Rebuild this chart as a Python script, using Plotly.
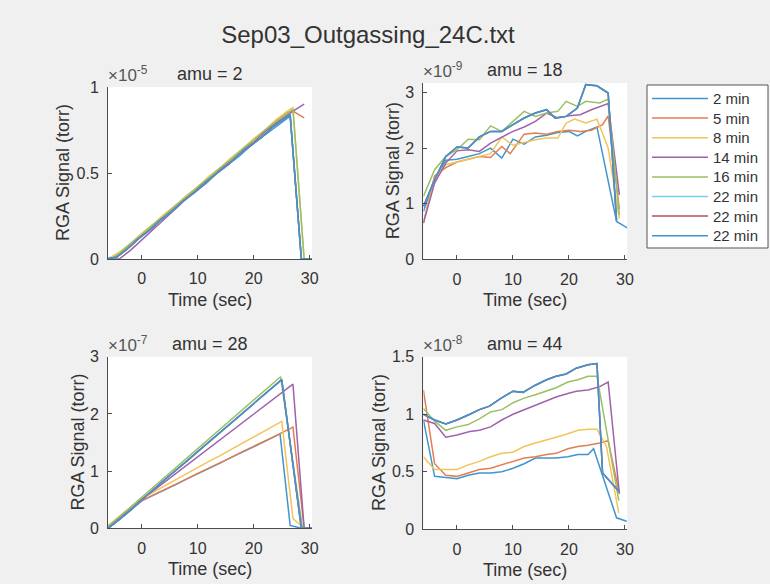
import plotly.graph_objects as go

W, H = 770, 584

labels = ["2 min", "5 min", "8 min", "14 min", "16 min", "22 min", "22 min", "22 min"]
colors = ["#4095CE", "#E37E52", "#F1C558", "#9E63AA", "#99C164", "#7ACEF2", "#B94F63", "#4095CE"]

# ---------------- amu = 2  (x 1e-5 torr) ----------------
amu2_t_drop = [-6.5, -4.5, -2.5, -0.5, 1.5, 3.5, 5.5, 7.5, 9.5, 11.5, 13.5, 15.5, 17.5, 19.5, 21.5, 23.5, 25.5, 26.5, 28.5, 30.5]
amu2_t_late = [-6, -5, -4, -2, 0, 2, 4, 6, 8, 10, 12, 14, 16, 18, 20, 22, 24, 26, 27, 29]
amu2_2min = [0, 0.01, 0.06, 0.12, 0.17, 0.23, 0.28, 0.34, 0.39, 0.44, 0.50, 0.55, 0.60, 0.66, 0.71, 0.76, 0.81, 0.83, 0, 0]
amu2_5min = [0, 0.01, 0.03, 0.08, 0.14, 0.19, 0.25, 0.30, 0.36, 0.41, 0.47, 0.52, 0.58, 0.63, 0.69, 0.74, 0.80, 0.85, 0.86, 0.82]
amu2_8min = [0, 0.02, 0.04, 0.09, 0.15, 0.20, 0.26, 0.31, 0.37, 0.42, 0.48, 0.53, 0.59, 0.64, 0.70, 0.75, 0.81, 0.86, 0.88, 0]
amu2_14min = [0, 0, 0, 0.05, 0.11, 0.17, 0.23, 0.29, 0.35, 0.40, 0.46, 0.52, 0.57, 0.63, 0.68, 0.74, 0.79, 0.84, 0.86, 0.90]
amu2_16min = [0, 0.01, 0.03, 0.09, 0.14, 0.20, 0.25, 0.31, 0.36, 0.42, 0.47, 0.53, 0.58, 0.64, 0.69, 0.75, 0.80, 0.85, 0.87, 0]
amu2_22min = [0, 0.01, 0.06, 0.12, 0.17, 0.23, 0.28, 0.34, 0.39, 0.45, 0.50, 0.55, 0.61, 0.66, 0.71, 0.77, 0.82, 0.84, 0, 0]

# ---------------- amu = 18  (x 1e-9 torr) ----------------
amu18_t_2min = [-6, -4, -2, 0, 2, 4, 6, 8, 10, 12, 14, 16, 18, 20, 21.5, 23, 25, 28.5, 30.5]
amu18_2min = [0.86, 1.45, 1.78, 1.80, 1.85, 1.90, 2.00, 1.82, 2.16, 2.07, 2.20, 2.23, 2.28, 2.30, 2.22, 2.30, 2.38, 0.68, 0.56]
amu18_t_5min = [-6, -4, -2, 0, 2, 4, 6, 8, 9.5, 12, 14, 16, 18, 20, 22, 24, 26, 27, 29]
amu18_5min = [0.65, 1.50, 1.65, 1.75, 1.80, 1.85, 1.83, 2.03, 1.90, 2.25, 2.27, 2.25, 2.30, 2.32, 2.30, 2.32, 2.42, 2.58, 0.90]
amu18_t_8min = [-6, -4, -2, 0, 2, 4, 6, 8, 10, 12, 14, 16, 18, 19.5, 21, 23, 25, 27, 29]
amu18_8min = [0.65, 1.45, 1.70, 1.75, 1.80, 1.85, 1.90, 2.20, 2.05, 2.10, 2.15, 2.18, 2.18, 2.45, 2.52, 2.45, 2.52, 2.00, 0.73]
amu18_t_14min = [-6, -4, -2, 0, 2, 4, 6, 8, 10, 12, 14, 16, 18, 20, 22, 24, 27, 29]
amu18_14min = [0.65, 1.37, 1.73, 1.95, 1.97, 1.94, 2.09, 2.20, 2.30, 2.38, 2.48, 2.63, 2.54, 2.58, 2.60, 2.69, 2.80, 1.16]
amu18_t_16min = [-6, -4, -2, 0, 2, 4, 6, 8, 10, 12, 14, 16, 18, 19.5, 21.5, 23, 25.5, 27, 29]
amu18_16min = [1.13, 1.61, 1.85, 1.97, 2.16, 2.15, 2.40, 2.30, 2.48, 2.66, 2.57, 2.63, 2.66, 2.84, 2.75, 2.84, 2.81, 2.88, 0.80]
amu18_t_22min = [-6, -4, -2, 0, 2, 4, 6, 8, 10, 12, 14, 16, 17.5, 19.5, 21.5, 23, 25, 27, 28.5]
amu18_22min = [0.95, 1.43, 1.85, 2.02, 2.00, 2.20, 2.30, 2.30, 2.42, 2.54, 2.63, 2.69, 2.54, 2.57, 2.72, 3.14, 3.12, 2.99, 0.70]

# ---------------- amu = 28  (x 1e-7 torr) ----------------
amu28_t_2min = [-6, -4, -2, 0, 2, 4, 6, 8, 10, 12, 14, 16, 18, 20, 22, 24.7, 26.5, 28.5, 30.5]
amu28_2min = [0, 0.15, 0.31, 0.48, 0.57, 0.67, 0.76, 0.86, 0.95, 1.05, 1.14, 1.24, 1.33, 1.43, 1.52, 1.65, 0.05, 0, 0]
amu28_t_5min = [-6, -4, -2, 0, 2, 4, 6, 8, 10, 12, 14, 16, 18, 20, 22, 24, 27, 29]
amu28_5min = [0.02, 0.17, 0.32, 0.48, 0.58, 0.67, 0.77, 0.86, 0.96, 1.05, 1.15, 1.24, 1.34, 1.43, 1.53, 1.62, 1.77, 0]
amu28_t_8min = [-6, -4, -2, 0, 2, 4, 6, 8, 10, 12, 14, 16, 18, 20, 22, 25, 27, 29]
amu28_8min = [0.05, 0.20, 0.36, 0.52, 0.63, 0.74, 0.84, 0.95, 1.06, 1.17, 1.27, 1.38, 1.49, 1.60, 1.71, 1.87, 0.17, 0]
amu28_t_14min = [-6, -4, -2, 0, 2, 4, 6, 8, 10, 12, 14, 16, 18, 20, 22, 24, 27, 29]
amu28_14min = [0.02, 0.17, 0.33, 0.50, 0.65, 0.80, 0.95, 1.10, 1.25, 1.40, 1.55, 1.70, 1.85, 2.00, 2.15, 2.30, 2.52, 0]
amu28_t_16min = [-6, -4, -2, 0, 2, 4, 6, 8, 10, 12, 14, 16, 18, 20, 22, 24.8, 28.7]
amu28_16min = [0.03, 0.20, 0.37, 0.55, 0.72, 0.89, 1.06, 1.23, 1.40, 1.57, 1.74, 1.90, 2.07, 2.24, 2.41, 2.65, 0]
amu28_t_22min = [-6, -4, -2, 0, 2, 4, 6, 8, 10, 12, 14, 16, 18, 20, 22, 25, 28.5, 30.5]
amu28_22min = [0, 0.15, 0.32, 0.50, 0.67, 0.84, 1.00, 1.17, 1.34, 1.51, 1.68, 1.85, 2.02, 2.19, 2.36, 2.60, 0, 0]

# ---------------- amu = 44  (x 1e-8 torr) ----------------
amu44_t_2min = [-6, -4, -2, 0, 2, 4, 6, 8, 10, 12, 14, 16, 17.7, 19.8, 21.6, 23.4, 24.4, 28.5, 30.3]
amu44_2min = [0.95, 0.46, 0.45, 0.44, 0.47, 0.49, 0.49, 0.50, 0.53, 0.57, 0.62, 0.62, 0.62, 0.63, 0.65, 0.65, 0.70, 0.10, 0.07]
amu44_t_5min = [-6, -4, -2, 0, 2, 4, 6, 8, 10, 12, 14, 16, 17.7, 19.8, 21.6, 23.4, 25.5, 27, 29]
amu44_5min = [1.21, 0.57, 0.47, 0.46, 0.49, 0.52, 0.53, 0.56, 0.59, 0.62, 0.63, 0.65, 0.66, 0.70, 0.72, 0.73, 0.75, 0.77, 0.31]
amu44_t_8min = [-6, -4, -2, 0, 2, 4, 6, 8, 10, 12, 14, 16, 17.7, 19.8, 21.6, 23.4, 25, 26.7, 28.9]
amu44_8min = [0.63, 0.52, 0.52, 0.52, 0.56, 0.59, 0.63, 0.66, 0.67, 0.72, 0.75, 0.78, 0.80, 0.83, 0.86, 0.87, 0.87, 0.72, 0.14]
amu44_t_14min = [-6, -4, -2, 0, 2.3, 4, 6, 8, 10, 12, 14, 16, 17.7, 19.8, 21.3, 23.4, 25.5, 27, 29]
amu44_14min = [0.95, 0.92, 0.80, 0.82, 0.85, 0.86, 0.89, 0.95, 1.00, 1.04, 1.08, 1.12, 1.15, 1.18, 1.20, 1.21, 1.24, 1.28, 0.31]
amu44_t_16min = [-6, -4, -2, 0, 2, 4, 6, 8, 10, 12, 14, 16, 17.7, 19.8, 21.6, 23.4, 25, 28.9]
amu44_16min = [1.05, 0.94, 0.86, 0.89, 0.91, 0.96, 1.02, 1.04, 1.10, 1.14, 1.17, 1.20, 1.23, 1.28, 1.30, 1.33, 1.33, 0.25]
amu44_t_22min = [-6, -4, -2, 0, 2.3, 4, 5.8, 7.9, 10, 11.8, 13.9, 16, 17.7, 19.5, 21.3, 23.4, 25, 26, 28.9]
amu44_22min = [1.00, 0.95, 0.915, 0.95, 1.00, 1.04, 1.07, 1.14, 1.20, 1.19, 1.25, 1.30, 1.33, 1.35, 1.40, 1.43, 1.44, 0.49, 0.33]

panels = [
    dict(title="amu = 2", exp="-5", ticks=[0, 0.5, 1], ticktext=["0", "0.5", "1"], yr=[0, 1],
         series=[(amu2_t_drop, amu2_2min), (amu2_t_late, amu2_5min), (amu2_t_late, amu2_8min),
                 (amu2_t_late, amu2_14min), (amu2_t_late, amu2_16min), (amu2_t_drop, amu2_22min),
                 (amu2_t_drop, amu2_22min), (amu2_t_drop, amu2_22min)]),
    dict(title="amu = 18", exp="-9", ticks=[0, 1, 2, 3], ticktext=["0", "1", "2", "3"], yr=[0, 3.17],
         series=[(amu18_t_2min, amu18_2min), (amu18_t_5min, amu18_5min), (amu18_t_8min, amu18_8min),
                 (amu18_t_14min, amu18_14min), (amu18_t_16min, amu18_16min), (amu18_t_22min, amu18_22min),
                 (amu18_t_22min, amu18_22min), (amu18_t_22min, amu18_22min)]),
    dict(title="amu = 28", exp="-7", ticks=[0, 1, 2, 3], ticktext=["0", "1", "2", "3"], yr=[0, 3],
         series=[(amu28_t_2min, amu28_2min), (amu28_t_5min, amu28_5min), (amu28_t_8min, amu28_8min),
                 (amu28_t_14min, amu28_14min), (amu28_t_16min, amu28_16min), (amu28_t_22min, amu28_22min),
                 (amu28_t_22min, amu28_22min), (amu28_t_22min, amu28_22min)]),
    dict(title="amu = 44", exp="-8", ticks=[0, 0.5, 1, 1.5], ticktext=["0", "0.5", "1", "1.5"], yr=[0, 1.5],
         series=[(amu44_t_2min, amu44_2min), (amu44_t_5min, amu44_5min), (amu44_t_8min, amu44_8min),
                 (amu44_t_14min, amu44_14min), (amu44_t_16min, amu44_16min), (amu44_t_22min, amu44_22min),
                 (amu44_t_22min, amu44_22min), (amu44_t_22min, amu44_22min)]),
]

x_ticks = [0, 10, 20, 30]
x_range = [-6, 30.4]
x_title = "Time (sec)"
y_title = "RGA Signal (torr)"

# pixel boxes of the four axes (left, top, right, bottom) and y-title centres
boxes = [(108, 87, 312, 259), (423.4, 83, 627.2, 259.3), (108, 356.7, 312, 528.3), (423.4, 356.7, 627.2, 529.3)]
ytitle_x = [63, 393, 77, 379]

FONT = "Liberation Sans, Arial, sans-serif"
TXT = "#333333"
AXC = "#4d4d4d"

fig = go.Figure()
annotations = []
shapes = []
layout = {}
for i, (p, box) in enumerate(zip(panels, boxes)):
    n = "" if i == 0 else str(i + 1)
    xa, ya = "x" + n, "y" + n
    for j, (t, v) in enumerate(p["series"]):
        fig.add_trace(go.Scatter(x=t, y=v, mode="lines", name=labels[j],
                                 line=dict(color=colors[j], width=1.5),
                                 xaxis=xa, yaxis=ya, showlegend=False))
    l, tp, r, b = box
    common = dict(showline=True, linecolor=AXC, linewidth=1, ticks="inside", ticklen=4,
                  tickcolor=AXC, showgrid=False, zeroline=False, mirror=False, automargin=False,
                  tickfont=dict(size=16, color=TXT, family=FONT))
    layout["xaxis" + n] = dict(domain=[l / W, r / W], range=x_range, tickvals=x_ticks,
                               anchor=ya, ticklabelstandoff=5, **common)
    layout["yaxis" + n] = dict(domain=[1 - b / H, 1 - tp / H], range=p["yr"], tickvals=p["ticks"],
                               ticktext=p["ticktext"], anchor=xa, ticklabelstandoff=5, **common)
    # axis titles
    annotations.append(dict(x=(l + r) / 2 / W, y=1 - (b + 41) / H, xref="paper", yref="paper",
                            text=x_title, showarrow=False, xanchor="center", yanchor="middle",
                            font=dict(size=18, color=TXT, family=FONT)))
    annotations.append(dict(x=ytitle_x[i] / W, y=1 - (tp + b) / 2 / H, xref="paper", yref="paper",
                            text=y_title, showarrow=False, xanchor="center", yanchor="middle",
                            textangle=-90, font=dict(size=18, color=TXT, family=FONT)))
    # panel title and exponent label
    annotations.append(dict(x=(l + r) / 2 / W, y=1 - (tp - 13) / H, xref="paper", yref="paper",
                            text=p["title"], showarrow=False, xanchor="center", yanchor="middle",
                            font=dict(size=18, color=TXT, family=FONT)))
    annotations.append(dict(x=(l - 2) / W, y=1 - (tp - 13) / H, xref="paper", yref="paper",
                            text="×10<sup>" + p["exp"] + "</sup>", showarrow=False,
                            xanchor="left", yanchor="middle",
                            font=dict(size=17, color="#555555", family=FONT)))

# legend box drawn by hand (MATLAB style)
LEG_L, LEG_T, LEG_R, LEG_B = 647, 85, 768, 248
shapes.append(dict(type="rect", xref="paper", yref="paper", x0=LEG_L / W, x1=LEG_R / W,
                   y0=1 - LEG_B / H, y1=1 - LEG_T / H, fillcolor="white",
                   line=dict(color="#555555", width=1), layer="above"))
for k, (lab, col) in enumerate(zip(labels, colors)):
    yy = 1 - (98.5 + k * 19.6) / H
    shapes.append(dict(type="line", xref="paper", yref="paper", x0=652 / W, x1=708 / W,
                       y0=yy, y1=yy, line=dict(color=col, width=1.5), layer="above"))
    annotations.append(dict(x=711 / W, y=yy, xref="paper", yref="paper", text=lab,
                            showarrow=False, xanchor="left", yanchor="middle",
                            font=dict(size=15, color=TXT, family=FONT)))

fig.update_layout(
    width=W, height=H,
    margin=dict(l=0, r=0, t=0, b=0, autoexpand=False),
    paper_bgcolor="#F0F0F0", plot_bgcolor="white",
    title=dict(text="Sep03_Outgassing_24C.txt", x=368 / W, xanchor="center", y=1 - 35 / H,
               yanchor="middle", font=dict(size=24, color=TXT, family=FONT)),
    showlegend=False,
    annotations=annotations,
    shapes=shapes,
    **layout,
)

fig.write_html("out.html", config={"displayModeBar": False},
               post_script="document.body.style.margin='0';document.body.style.overflow='hidden';")
